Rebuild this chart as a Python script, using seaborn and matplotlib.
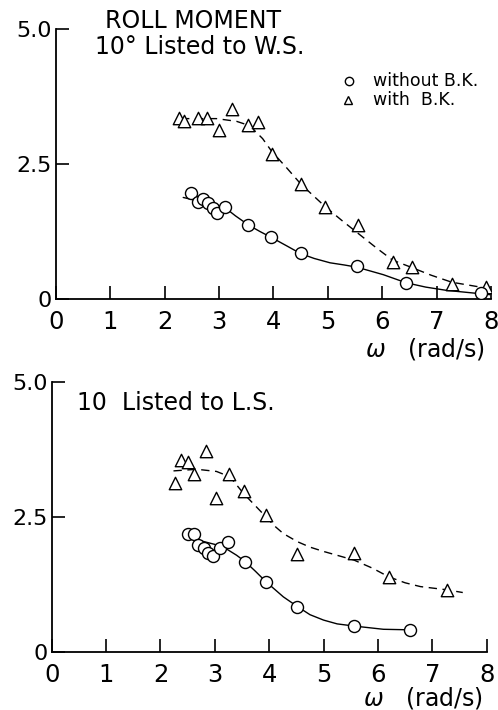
import matplotlib
matplotlib.use("Agg")
import matplotlib.pyplot as plt
import seaborn as sns

# ---- Top panel: 10 deg listed to W.S. ----
ws_tri_x = [2.26, 2.36, 2.62, 2.78, 2.99, 3.24, 3.53, 3.72, 3.97, 4.51, 4.94, 5.55, 6.19, 6.55, 7.28, 7.91]
ws_tri_y = [3.36, 3.29, 3.35, 3.35, 3.12, 3.52, 3.22, 3.27, 2.69, 2.12, 1.70, 1.37, 0.69, 0.60, 0.28, 0.22]
ws_cir_x = [2.49, 2.61, 2.70, 2.80, 2.89, 2.97, 3.11, 3.54, 3.96, 4.50, 5.53, 6.44, 7.82]
ws_cir_y = [1.96, 1.80, 1.86, 1.78, 1.69, 1.60, 1.70, 1.37, 1.14, 0.85, 0.61, 0.30, 0.11]
ws_fit_tri_x = [2.30, 2.95, 3.32, 3.50, 3.63, 3.80, 3.97, 4.25, 4.51, 4.94, 5.25, 5.55, 5.90, 6.19, 6.55, 6.90, 7.28, 7.98]
ws_fit_tri_y = [3.34, 3.34, 3.29, 3.23, 3.14, 2.97, 2.73, 2.42, 2.12, 1.72, 1.46, 1.22, 0.94, 0.72, 0.58, 0.44, 0.31, 0.19]
ws_fit_cir_x = [2.34, 2.77, 3.11, 3.30, 3.54, 3.75, 3.96, 4.25, 4.50, 4.75, 5.04, 5.30, 5.53, 6.02, 6.44, 6.80, 7.18, 7.98]
ws_fit_cir_y = [1.88, 1.78, 1.69, 1.54, 1.37, 1.25, 1.14, 0.98, 0.84, 0.75, 0.67, 0.63, 0.59, 0.45, 0.30, 0.22, 0.16, 0.08]

# ---- Bottom panel: 10 listed to L.S. ----
ls_tri_x = [2.27, 2.37, 2.51, 2.61, 2.83, 3.02, 3.26, 3.53, 3.94, 4.52, 5.56, 6.20, 7.27]
ls_tri_y = [3.13, 3.56, 3.51, 3.30, 3.72, 2.84, 3.29, 2.97, 2.54, 1.81, 1.84, 1.39, 1.15]
ls_cir_x = [2.51, 2.62, 2.69, 2.81, 2.88, 2.97, 3.10, 3.24, 3.56, 3.94, 4.52, 5.56, 6.59]
ls_cir_y = [2.18, 2.18, 1.97, 1.92, 1.84, 1.78, 1.93, 2.04, 1.66, 1.29, 0.84, 0.48, 0.41]
ls_fit_tri_x = [2.24, 2.67, 3.03, 3.28, 3.53, 3.75, 3.94, 4.10, 4.26, 4.52, 4.75, 5.00, 5.56, 5.90, 6.20, 6.50, 6.78, 7.27, 7.56]
ls_fit_tri_y = [3.35, 3.38, 3.34, 3.24, 2.93, 2.70, 2.50, 2.33, 2.19, 2.04, 1.94, 1.86, 1.70, 1.55, 1.39, 1.28, 1.21, 1.15, 1.10]
ls_fit_cir_x = [2.69, 3.04, 3.24, 3.40, 3.56, 3.75, 3.94, 4.26, 4.52, 4.75, 5.00, 5.25, 5.56, 6.10, 6.59]
ls_fit_cir_y = [2.07, 1.98, 1.89, 1.79, 1.67, 1.49, 1.30, 1.02, 0.84, 0.69, 0.59, 0.52, 0.48, 0.42, 0.41]

x_ticks = [0, 1, 2, 3, 4, 5, 6, 7, 8]
y_ticks = [0, 2.5, 5.0]
y_tick_labels = ["0", "2.5", "5.0"]

sns.set_theme(style="ticks")
plt.rcParams["font.family"] = ["DejaVu Sans"]
plt.rcParams["text.color"] = "black"

fig = plt.figure(figsize=(4.98, 7.10), dpi=100)
ax1 = fig.add_axes([0.1124, 0.5789, 0.8735, 0.3803])
ax2 = fig.add_axes([0.1038, 0.0817, 0.8735, 0.3807])

def draw(ax, tx, ty, cx, cy, ftx, fty, fcx, fcy):
    sns.lineplot(x=ftx, y=fty, ax=ax, color="black", lw=1.0, estimator=None, sort=False,
                 linestyle=(0, (6, 4)))
    sns.lineplot(x=fcx, y=fcy, ax=ax, color="black", lw=1.0, estimator=None, sort=False)
    sns.scatterplot(x=tx, y=ty, ax=ax, marker="^", s=80, facecolor="white",
                    edgecolor="black", linewidth=1.0, zorder=3)
    sns.scatterplot(x=cx, y=cy, ax=ax, marker="o", s=75, facecolor="white",
                    edgecolor="black", linewidth=1.0, zorder=3)
    ax.set_xlim(0, 8)
    ax.set_ylim(0, 5)
    ax.set_xticks(x_ticks)
    ax.set_xticklabels([str(v) for v in x_ticks])
    ax.set_yticks(y_ticks)
    ax.set_yticklabels(y_tick_labels)
    ax.tick_params(direction="in", length=9.5, width=1.2, colors="black",
                   labelcolor="black", bottom=True, left=True)
    ax.tick_params(axis="x", pad=8, labelsize=17.5)
    ax.tick_params(axis="y", pad=3, labelsize=16)
    for s in ["top", "right"]:
        ax.spines[s].set_visible(False)
    for s in ["left", "bottom"]:
        ax.spines[s].set_color("black")
        ax.spines[s].set_linewidth(1.3)
    ax.set_xlabel("")
    ax.set_ylabel("")
    ax.patch.set_alpha(0)

draw(ax1, ws_tri_x, ws_tri_y, ws_cir_x, ws_cir_y, ws_fit_tri_x, ws_fit_tri_y, ws_fit_cir_x, ws_fit_cir_y)
draw(ax2, ls_tri_x, ls_tri_y, ls_cir_x, ls_cir_y, ls_fit_tri_x, ls_fit_tri_y, ls_fit_cir_x, ls_fit_cir_y)

# titles / annotations
ax1.text(0.9, 5.14, "ROLL MOMENT", fontsize=17, ha="left", va="center", color="black")
ax1.text(0.72, 4.67, "10° Listed to W.S.", fontsize=17, ha="left", va="center", color="black")
ax1.plot([5.39], [4.04], marker="o", ms=6, mfc="white", mec="black", mew=1.0, clip_on=False)
ax1.plot([5.37], [3.69], marker="^", ms=6, mfc="white", mec="black", mew=1.0, clip_on=False)
ax1.text(5.83, 4.04, "without B.K.", fontsize=12.5, ha="left", va="center", color="black")
ax1.text(5.83, 3.69, "with  B.K.", fontsize=12.5, ha="left", va="center", color="black")
ax1.text(7.89, -0.93, "$\\omega$   (rad/s)", fontsize=17, ha="right", va="center", color="black")

ax2.text(0.47, 4.61, "10  Listed to L.S.", fontsize=17, ha="left", va="center", color="black")
ax2.text(7.93, -0.85, "$\\omega$   (rad/s)", fontsize=17, ha="right", va="center", color="black")

fig.savefig("out.png", dpi=100, facecolor="white")
